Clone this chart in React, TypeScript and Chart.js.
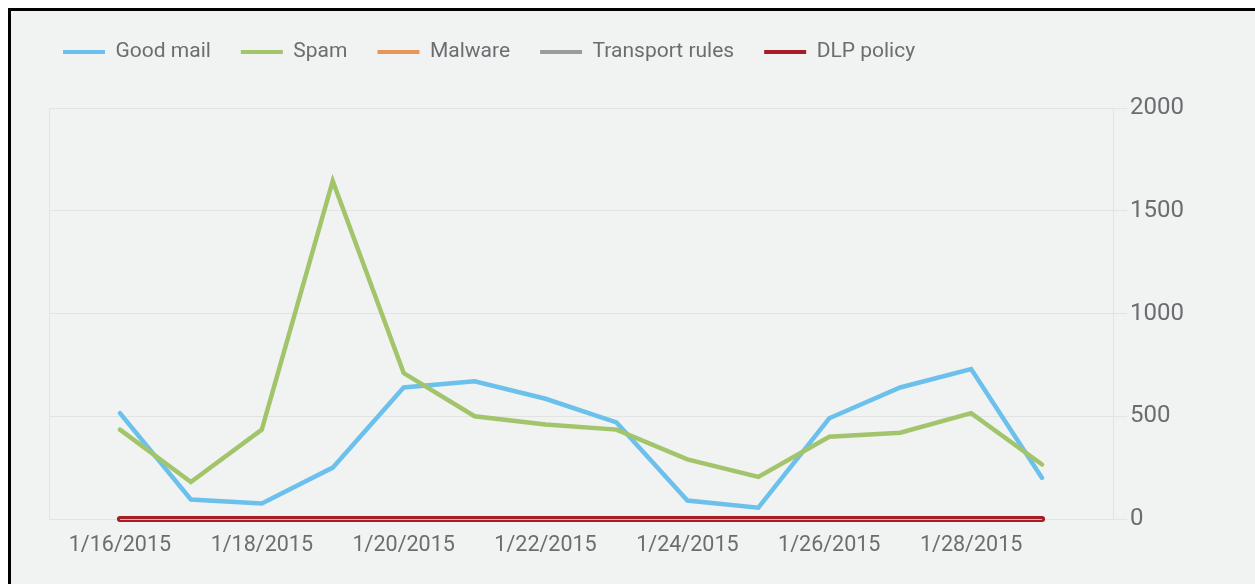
import React, { useEffect, useRef } from "react";
import { Chart, registerables } from "chart.js";

Chart.register(...registerables);

const dates = [
  "1/16/2015", "1/17/2015", "1/18/2015", "1/19/2015", "1/20/2015",
  "1/21/2015", "1/22/2015", "1/23/2015", "1/24/2015", "1/25/2015",
  "1/26/2015", "1/27/2015", "1/28/2015", "1/29/2015",
];
const goodMail = [515, 95, 75, 250, 640, 670, 585, 470, 90, 55, 490, 640, 730, 200];
const spam = [435, 180, 435, 1645, 710, 500, 460, 435, 290, 205, 400, 420, 515, 265];
const malware = [0, 0, 0, 0, 0, 0, 0, 0, 0, 0, 0, 0, 0, 0];
const transportRules = [0, 0, 0, 0, 0, 0, 0, 0, 0, 0, 0, 0, 0, 0];
const dlpPolicy = [0, 0, 0, 0, 0, 0, 0, 0, 0, 0, 0, 0, 0, 0];
const yMin = 0;
const yMax = 2000;
const yStep = 500;

const FONT = "Roboto, 'Noto Sans', sans-serif";
const TEXT = "#6b6d70";
const GRID = "#e2e4e4";
const BG = "#f1f2f2";

export default function App() {
  const ref = useRef<HTMLCanvasElement>(null);

  useEffect(() => {
    if (!ref.current) return;
    const labels = ["", ...dates, ""];
    const pad = (a: number[]) => [null, ...a, null];

    const legendFix = {
      id: "legendFix",
      beforeLayout(chart: any) {
        const lg = chart.legend;
        if (lg && !lg.__patched) {
          const orig = lg.fit.bind(lg);
          lg.fit = function () {
            orig();
            this.height = 96.5;
          };
          lg.__patched = true;
        }
      },
    };

    // thin light stripe through the zero-line, as in the original rendering
    const zeroStripe = {
      id: "zeroStripe",
      afterDatasetsDraw(chart: any) {
        const { ctx, scales } = chart;
        const y0 = Math.round(scales.y.getPixelForValue(0)) + 0.5;
        const xa = scales.x.getPixelForValue(1);
        const xb = scales.x.getPixelForValue(dates.length);
        ctx.save();
        ctx.strokeStyle = "rgba(235,205,205,0.85)";
        ctx.lineWidth = 1;
        ctx.beginPath();
        ctx.moveTo(xa, y0);
        ctx.lineTo(xb, y0);
        ctx.stroke();
        ctx.restore();
      },
    };

    const mk = (label: string, data: number[], color: string, order: number, w = 4.5) => ({
      label,
      data: pad(data),
      borderColor: color,
      backgroundColor: color,
      borderWidth: w,
      pointRadius: 0,
      pointHoverRadius: 0,
      tension: 0,
      borderCapStyle: "round" as const,
      clip: false,
      order,
    });

    const chart = new Chart(ref.current, {
      type: "line",
      data: {
        labels,
        datasets: [
          mk("Good mail", goodMail, "#6cc0ec", 4),
          mk("Spam", spam, "#a2c46b", 3),
          mk("Malware", malware, "#e8955a", 2),
          mk("Transport rules", transportRules, "#9b9b9b", 1),
          mk("DLP policy", dlpPolicy, "#a51d27", 0, 6),
        ],
      },
      plugins: [legendFix, zeroStripe],
      options: {
        responsive: false,
        animation: false,
        events: [],
        layout: { padding: { top: 0.5, left: 22, right: 0, bottom: 0 } },
        plugins: {
          tooltip: { enabled: false },
          legend: {
            position: "top",
            align: "start",
            labels: {
              boxWidth: 42,
              boxHeight: 4,
              padding: 30,
              color: TEXT,
              font: { family: FONT, size: 21 },
              sort: (a: any, b: any) => a.datasetIndex - b.datasetIndex,
              generateLabels: (c: any) =>
                Chart.defaults.plugins.legend.labels
                  .generateLabels(c)
                  .map((l: any) => ({ ...l, lineWidth: 0, fillStyle: l.strokeStyle })),
            },
          },
        },
        scales: {
          x: {
            type: "category",
            offset: false,
            grid: {
              color: (ctx: any) => (ctx.index === 0 ? GRID : "rgba(0,0,0,0)"),
              drawTicks: false,
            },
            border: { display: false },
            ticks: {
              autoSkip: false,
              maxRotation: 0,
              minRotation: 0,
              padding: 14,
              color: TEXT,
              font: { family: FONT, size: 21.5 },
              callback: (_v: any, i: number) => (i % 2 === 1 ? labels[i] : ""),
            },
            afterFit: (s: any) => {
              s.height = 65;
            },
          },
          y: {
            position: "right",
            min: yMin,
            max: yMax,
            grid: { color: GRID, drawTicks: true, tickLength: 14 },
            border: { display: true, color: GRID },
            ticks: {
              stepSize: yStep,
              padding: 3,
              color: TEXT,
              font: { family: FONT, size: 24 },
              callback: (v: any) => String(v),
            },
            afterFit: (s: any) => {
              s.width = 142;
            },
          },
          yLeft: {
            position: "left",
            display: true,
            grid: { display: false, drawTicks: false },
            border: { display: false },
            ticks: { display: false },
            afterFit: (s: any) => {
              s.width = 16;
            },
          },
        },
      },
    } as any);

    return () => chart.destroy();
  }, []);

  return (
    <div
      style={{
        position: "fixed",
        left: 8,
        top: 8,
        right: 0,
        bottom: 0,
        borderTop: "3px solid #000",
        borderLeft: "3px solid #000",
        background: BG,
        overflow: "hidden",
      }}
    >
      <canvas ref={ref} width={1244} height={573} style={{ display: "block" }} />
    </div>
  );
}
